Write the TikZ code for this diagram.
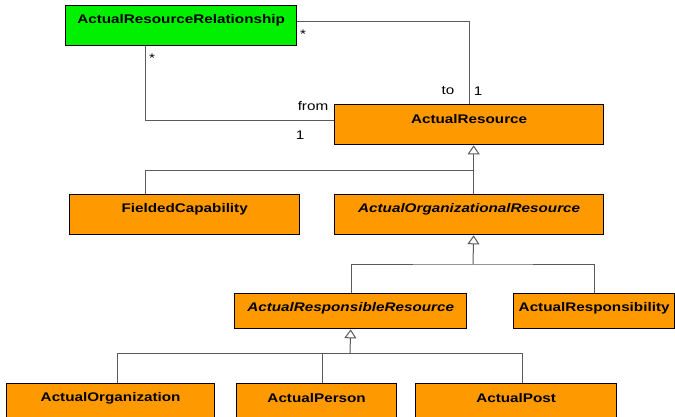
\documentclass[tikz,border=0pt]{standalone}
\usepackage{fontspec}
\setmainfont{Liberation Sans}[FakeStretch=1.22]
\usetikzlibrary{arrows.meta}
\definecolor{boxorange}{HTML}{FF9900}
\definecolor{boxgreen}{HTML}{00F000}
\definecolor{linegray}{HTML}{5A5A5A}
\tikzset{
  cls/.style={draw=black, line width=1.3pt, fill=boxorange, anchor=north west, inner sep=0pt, minimum height=40pt},
  lbl/.style={font=\fontsize{12.5}{15}\selectfont\bfseries, inner sep=0pt},
  ilbl/.style={font=\fontsize{12.5}{15}\selectfont\bfseries\itshape, inner sep=0pt},
  mult/.style={font=\fontsize{12.5}{15}\selectfont, inner sep=0pt},
  conn/.style={draw=linegray, line width=1pt},
  gen/.style={conn, -{Triangle[width=12pt, length=9pt, fill=white]}},
}
\begin{document}
\begin{tikzpicture}[x=1pt,y=-1pt]
\useasboundingbox (0,0) rectangle (675,416);
% boxes
\node[cls, fill=boxgreen, minimum width=231pt] (arr) at (65,5) {};
\node[lbl] (arr-t) at ([yshift=-15pt]arr.north) {ActualResourceRelationship};
\node[cls, minimum width=269pt] (ar) at (334,104) {};
\node[lbl] (ar-t) at ([yshift=-15pt]ar.north) {ActualResource};
\node[cls, minimum width=230pt] (fc) at (69,194) {};
\node[lbl] (fc-t) at ([yshift=-15pt]fc.north) {FieldedCapability};
\node[cls, minimum width=269pt] (aor) at (334,194) {};
\node[ilbl] (aor-t) at ([yshift=-15pt]aor.north) {ActualOrganizationalResource};
\node[cls, minimum width=232pt, minimum height=35pt] (arres) at (234,293) {};
\node[ilbl] (arres-t) at ([yshift=-15pt]arres.north) {ActualResponsibleResource};
\node[cls, minimum width=161pt, minimum height=35pt] (arsp) at (513,293) {};
\node[lbl] (arsp-t) at ([yshift=-15pt]arsp.north) {ActualResponsibility};
\node[cls, minimum width=208pt] (ao) at (6,383) {};
\node[lbl] (ao-t) at ([yshift=-15pt]ao.north) {ActualOrganization};
\node[cls, minimum width=160pt] (ap) at (236,383) {};
\node[lbl] (ap-t) at ([yshift=-15pt]ap.north) {ActualPerson};
\node[cls, minimum width=201pt] (apost) at (415,383) {};
\node[lbl] (apost-t) at ([yshift=-15pt]apost.north) {ActualPost};
% associations
\draw[conn] ([yshift=4pt]arr.east) -| ([xshift=0.5pt]ar.north);
\draw[conn] ([xshift=-35.5pt]arr.south) |- ([yshift=4pt]ar.west);
\node[mult] (m1) at (303,34) {*};
\node[mult] (m2) at (448,91) {to};
\node[mult] (m3) at (478,91) {1};
\node[mult] (m4) at (313,106) {from};
\node[mult] (m5) at (152,58) {*};
\node[mult] (m6) at (300,135) {1};
% generalization level 1
\coordinate (j1) at (473,170);
\draw[gen] ([xshift=4.5pt]aor.north) -- ([xshift=4.5pt]ar.south);
\draw[conn] ([xshift=-39pt]fc.north) |- (j1);
% level 2
\coordinate (j2) at (473,264);
\draw[gen] (j2) -- ([xshift=4.5pt]aor.south);
\draw[conn] ([xshift=1pt]arres.north) |- (j2) -| ([xshift=0.5pt]arsp.north);
% level 3
\coordinate (j3) at (350,353);
\draw[gen] (j3) -- (arres.south);
\draw[conn] ([xshift=7pt]ao.north) |- (j3);
\draw[conn] ([xshift=6pt]ap.north) -- ([xshift=6pt]ap.north |- j3);
\draw[conn] ([xshift=6.5pt]apost.north) |- (j3);
\end{tikzpicture}
\end{document}
